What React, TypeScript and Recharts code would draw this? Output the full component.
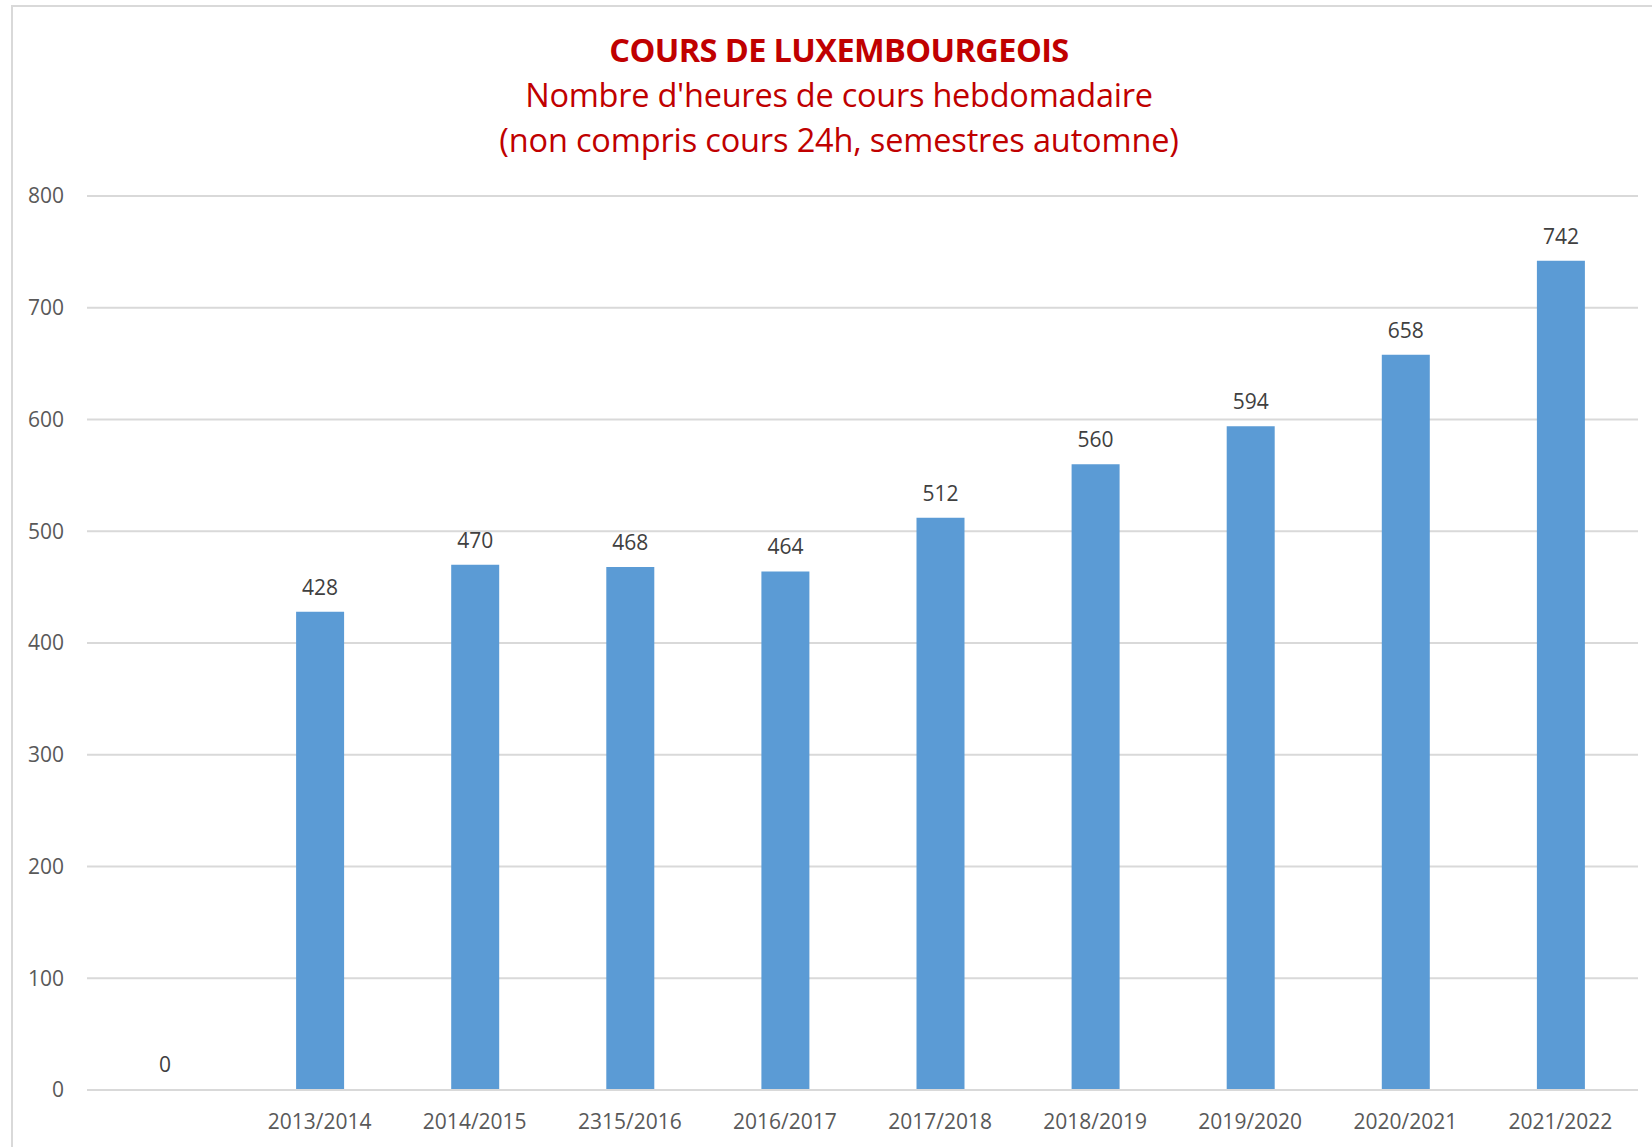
import React from 'react';
import { BarChart, Bar, XAxis, YAxis, CartesianGrid, LabelList, Cell } from 'recharts';

const years = ['', '2013/2014', '2014/2015', '2315/2016', '2016/2017', '2017/2018', '2018/2019', '2019/2020', '2020/2021', '2021/2022'];
const hours = [0, 428, 470, 468, 464, 512, 560, 594, 658, 742];
const yTicks = [0, 100, 200, 300, 400, 500, 600, 700, 800];

const data = years.map((year, i) => ({ year, hours: hours[i] }));

const font = '"Open Sans", sans-serif';

const App: React.FC = () => {
  return (
    <div style={{ position: 'absolute', left: 0, top: 0, width: 1652, height: 1147, overflow: 'hidden', background: '#fff', fontFamily: font }}>
      <div style={{ position: 'absolute', left: 11, top: 5, width: 1700, height: 1200, border: '2px solid #D9D9D9', boxSizing: 'border-box' }} />
      <div style={{ position: 'absolute', left: 13, width: 1652, top: 28, textAlign: 'center', color: '#C00000' }}>
        <div style={{ fontSize: 32.5, fontWeight: 700, lineHeight: '44px', letterSpacing: -0.6 }}>COURS DE LUXEMBOURGEOIS</div>
        <div style={{ fontSize: 32.5, lineHeight: '46px', letterSpacing: -0.25 }}>Nombre d'heures de cours hebdomadaire</div>
        <div style={{ fontSize: 32.5, lineHeight: '44px', letterSpacing: -0.15 }}>(non compris cours 24h, semestres automne)</div>
      </div>
      <div style={{ position: 'absolute', left: 0, top: 0 }}>
        <BarChart width={1652} height={1147} data={data} margin={{ top: 196, right: 14, bottom: 7, left: 0 }}>
          <CartesianGrid vertical={false} stroke="#D9D9D9" strokeWidth={2} />
          <XAxis
            dataKey="year"
            axisLine={{ stroke: '#D9D9D9', strokeWidth: 2 }}
            tickLine={false}
            tickMargin={18}
            height={50}
            interval={0}
            tick={{ fill: '#595959', fontSize: 21, fontFamily: font }}
          />
          <YAxis
            width={87}
            domain={[0, 800]}
            ticks={yTicks}
            axisLine={false}
            tickLine={false}
            tickMargin={17}
            tick={{ fill: '#595959', fontSize: 21, fontFamily: font }}
          />
          <Bar dataKey="hours" fill="#5B9BD5" barSize={48} minPointSize={1} isAnimationActive={false}>
            {data.map((d, i) => (
              <Cell key={i} fill="#5B9BD5" fillOpacity={d.hours === 0 ? 0 : 1} />
            ))}
            <LabelList dataKey="hours" position="top" offset={17} fill="#404040" fontSize={21} fontFamily={font} />
          </Bar>
        </BarChart>
      </div>
    </div>
  );
};

export default App;
